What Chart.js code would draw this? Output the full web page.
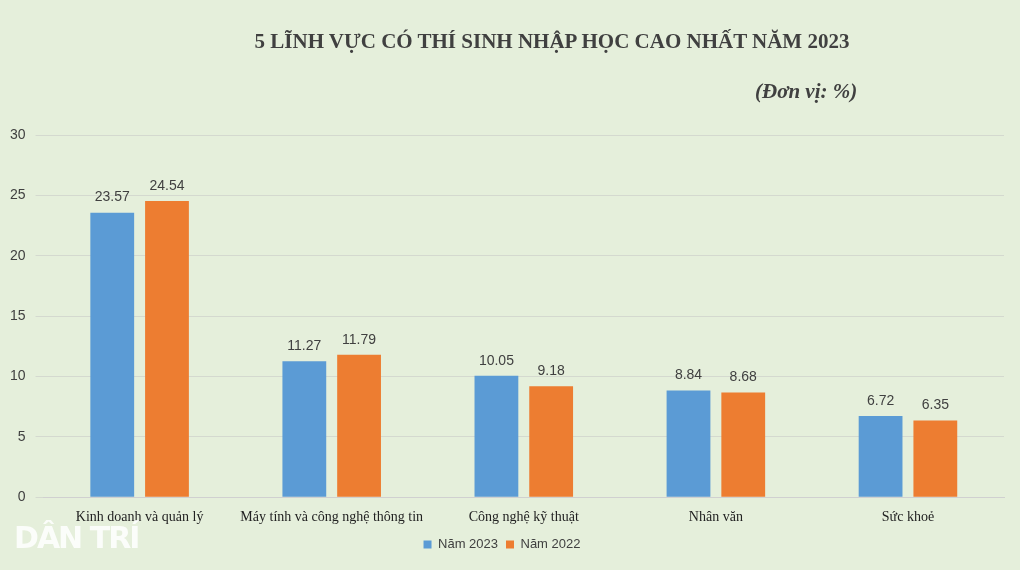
<!DOCTYPE html>
<html><head><meta charset="utf-8">
<script src="https://cdn.jsdelivr.net/npm/chart.js@4"></script>
<style>
html,body{margin:0;padding:0;background:#e5efdb;}
#wrap{position:relative;width:1020px;height:570px;}
#title{position:absolute;top:29px;left:0;width:1104px;text-align:center;font:bold 21px "Liberation Serif",serif;color:#404040;}
#unit{position:absolute;top:79px;left:755px;font:italic bold 21px "Liberation Serif",serif;color:#404040;}
#logo{position:absolute;top:520px;left:14px;font:bold 30px "DejaVu Sans",sans-serif;color:rgba(255,255,255,0.85);letter-spacing:-2px;}
</style></head>
<body><div id="wrap">
<div id="title">5 LĨNH VỰC CÓ THÍ SINH NHẬP HỌC CAO NHẤT NĂM 2023</div>
<div id="unit">(Đơn vị: %)</div>
<canvas id="chart" width="1020" height="570"></canvas>
<div id="logo">DÂN TRÍ</div>
</div>
<script>
const categories = ["Kinh doanh và quản lý", "Máy tính và công nghệ thông tin", "Công nghệ kỹ thuật", "Nhân văn", "Sức khoẻ"];
const values2023 = [23.57, 11.27, 10.05, 8.84, 6.72];
const values2022 = [24.54, 11.79, 9.18, 8.68, 6.35];

const labelPlugin = {
  id: "barLabels",
  afterDatasetsDraw(chart) {
    const ctx = chart.ctx;
    ctx.save();
    ctx.font = "14px 'Liberation Sans', sans-serif";
    ctx.fillStyle = "#404040";
    ctx.textAlign = "center";
    ctx.textBaseline = "bottom";
    chart.data.datasets.forEach((ds, i) => {
      chart.getDatasetMeta(i).data.forEach((bar, j) => {
        ctx.fillText(ds.data[j].toFixed(2), bar.x, bar.y - 8);
      });
    });
    ctx.restore();
  }
};

new Chart(document.getElementById("chart"), {
  type: "bar",
  data: {
    labels: categories,
    datasets: [
      { label: "Năm 2023", data: values2023, backgroundColor: "#5b9bd5" },
      { label: "Năm 2022", data: values2022, backgroundColor: "#ed7d31" }
    ]
  },
  options: {
    responsive: false,
    animation: false,
    layout: { padding: { top: 135, left: 0, right: 16, bottom: 9 } },
    categoryPercentage: 0.57,
    barPercentage: 0.8,
    plugins: {
      legend: {
        position: "bottom",
        labels: { boxWidth: 8, boxHeight: 8, color: "#404040", font: { family: "Liberation Sans", size: 13 }, padding: 8 }
      },
      tooltip: { enabled: false }
    },
    scales: {
      x: {
        grid: { display: false },
        border: { color: "#d0d0d0" },
        ticks: { color: "#222", font: { family: "Liberation Serif", size: 14 }, padding: 4, maxRotation: 0, minRotation: 0, autoSkip: false }
      },
      y: {
        min: 0, max: 30,
        ticks: { stepSize: 5, color: "#404040", font: { family: "Liberation Sans", size: 14 }, padding: 10 },
        grid: { color: "#d4d9cf" },
        border: { display: false }
      }
    }
  },
  plugins: [labelPlugin]
});
</script>
</body></html>
